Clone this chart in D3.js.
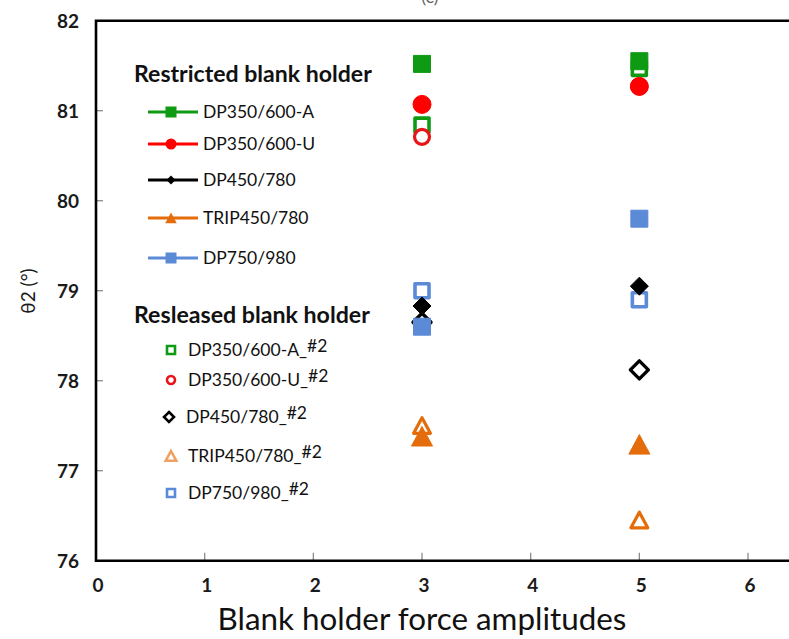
<!DOCTYPE html>
<html>
<head>
<meta charset="utf-8">
<script src="https://cdn.jsdelivr.net/npm/d3@7"></script>
<style>
  html, body { margin: 0; padding: 0; background: #fff; }
  svg { display: block; }
</style>
</head>
<body>
<svg id="chart" width="789" height="639"></svg>
<script>
// Blank holder force amplitudes at which θ2 was measured
const amplitudes = [3, 5];

// Restricted blank holder (filled markers, legend with line)
const restrictedNames = ["DP350/600-A", "DP350/600-U", "DP450/780", "TRIP450/780", "DP750/980"];
const restrictedValues = [
  [81.52, 81.55],
  [81.07, 81.27],
  [78.83, 79.05],
  [77.38, 77.29],
  [78.60, 79.80]
];

// Released blank holder (open markers)
const releasedNames = ["DP350/600-A_", "DP350/600-U_", "DP450/780_", "TRIP450/780_", "DP750/980_"];
const releasedValues = [
  [80.84, 81.47],
  [80.71, 81.27],
  [78.65, 78.12],
  [77.50, 76.45],
  [79.00, 78.90]
];

const xTicks = [0, 1, 2, 3, 4, 5, 6];
const yTicks = [76, 77, 78, 79, 80, 81, 82];

const colors = ["#0f9a14", "#ff0000", "#000000", "#e46c0a", "#5b8ad6"];
const openColors = ["#0f9a14", "#e8141a", "#000000", "#e46c0a", "#5b8ad6"];
const legendOpenColors = ["#0f9a14", "#e8141a", "#000000", "#f0a060", "#5b8ad6"];
const shapes = ["square", "circle", "diamond", "triangle", "square"];

const FONT = "Lato, 'Open Sans', sans-serif";
const svg = d3.select("#chart");

const x = d3.scaleLinear().domain([0, 6.6]).range([96, 96 + 6.6 * 108.67]);
const y = d3.scaleLinear().domain([76, 82]).range([560.7, 20.7]);

// scale a text's font size so that it spans the given width
function fitWidth(sel, width) {
  const fs = parseFloat(sel.attr("font-size"));
  const w = sel.node().getComputedTextLength();
  const nfs = fs * width / w;
  sel.attr("font-size", nfs);
  return nfs;
}

// custom marker geometry (size = full width in px)
const diamondType = {
  draw(ctx, s) {
    const h = s / 2;
    ctx.moveTo(0, -h); ctx.lineTo(h, 0); ctx.lineTo(0, h); ctx.lineTo(-h, 0); ctx.closePath();
  }
};
const triangleType = {
  draw(ctx, s) {
    const h = s / 2;
    ctx.moveTo(0, -h); ctx.lineTo(h * 1.05, h * 0.95); ctx.lineTo(-h * 1.05, h * 0.95); ctx.closePath();
  }
};
const squareType = {
  draw(ctx, s) {
    const h = s / 2;
    ctx.rect(-h, -h, s, s);
  }
};
const circleType = {
  draw(ctx, s) {
    const r = s / 2;
    ctx.moveTo(r, 0); ctx.arc(0, 0, r, 0, 2 * Math.PI);
  }
};
const typeOf = { square: squareType, circle: circleType, diamond: diamondType, triangle: triangleType };

function markerPath(shape, width) {
  return d3.symbol().type(typeOf[shape]).size(width)();
}

// filled marker widths and open marker widths (open ones are stroked)
const filledSize = { square: 17, circle: 18, diamond: 18, triangle: 20 };
const openSize = { square: 14, circle: 15, diamond: 18, triangle: 16 };
const openStroke = { square: 3.6, circle: 3.2, diamond: 3.4, triangle: 3.2 };

// ---- axes frame ----
const frame = svg.append("g");
// y tick marks (inside)
frame.selectAll("line.yt").data(yTicks.slice(1, -1)).join("line")
  .attr("x1", x(0)).attr("x2", x(0) + 7)
  .attr("y1", d => y(d)).attr("y2", d => y(d))
  .attr("stroke", "#8c8c8c").attr("stroke-width", 1.3);
// x tick marks (inside)
frame.selectAll("line.xt").data(xTicks.slice(1)).join("line")
  .attr("x1", d => x(d)).attr("x2", d => x(d))
  .attr("y1", y(76)).attr("y2", y(76) - 8)
  .attr("stroke", "#8c8c8c").attr("stroke-width", 1.3);

frame.append("path")
  .attr("d", `M${x(6.6)},${y(82)} L${x(0)},${y(82)} L${x(0)},${y(76)} L${x(6.6)},${y(76)}`)
  .attr("fill", "none").attr("stroke", "#000").attr("stroke-width", 2.6);

// tick labels
svg.append("g").selectAll("text").data(yTicks).join("text")
  .attr("x", 79).attr("y", d => y(d)).attr("dy", "0.36em")
  .attr("text-anchor", "end")
  .attr("font-family", FONT).attr("font-weight", "bold")
  .attr("font-size", 19).attr("fill", "#1a1a1a")
  .text(d => d);

svg.append("g").selectAll("text").data(xTicks).join("text")
  .attr("x", d => x(d) + 2).attr("y", 592)
  .attr("text-anchor", "middle")
  .attr("font-family", FONT).attr("font-weight", "bold")
  .attr("font-size", 19).attr("fill", "#1a1a1a")
  .text(d => d);

// axis titles
svg.append("text")
  .attr("transform", "translate(35,291) rotate(-90)")
  .attr("text-anchor", "middle")
  .attr("font-family", FONT)
  .attr("font-size", 19).attr("fill", "#1a1a1a")
  .text("θ2 (°)");

const xTitle = svg.append("text")
  .attr("x", 422).attr("y", 630)
  .attr("text-anchor", "middle")
  .attr("font-family", FONT)
  .attr("font-size", 27.5).attr("fill", "#111")
  .text("Blank holder force amplitudes");
fitWidth(xTitle, 409);

// panel caption, mostly above the canvas
svg.append("text")
  .attr("x", 430).attr("y", 3)
  .attr("text-anchor", "middle")
  .attr("font-family", FONT)
  .attr("font-size", 18).attr("fill", "#666")
  .text("(c)");

// ---- data points ----
const plot = svg.append("g");

// released blank holder (open markers) drawn first
releasedValues.forEach((vals, i) => {
  const shape = shapes[i];
  plot.append("g").selectAll("path").data(vals).join("path")
    .attr("d", markerPath(shape, openSize[shape]))
    .attr("transform", (d, j) => `translate(${x(amplitudes[j])},${y(d)})`)
    .attr("fill", "#fff")
    .attr("stroke", openColors[i])
    .attr("stroke-width", openStroke[shape])
    .attr("stroke-linejoin", "round");
});

// restricted blank holder (filled markers) on top
restrictedValues.forEach((vals, i) => {
  const shape = shapes[i];
  plot.append("g").selectAll("path").data(vals).join("path")
    .attr("d", markerPath(shape, filledSize[shape]))
    .attr("transform", (d, j) => `translate(${x(amplitudes[j])},${y(d)})`)
    .attr("fill", colors[i])
    .attr("stroke", colors[i])
    .attr("stroke-width", 1)
    .attr("stroke-linejoin", "round");
});

// ---- legends ----
const legend = svg.append("g")
  .attr("font-family", FONT)
  .attr("fill", "#111");

const headA = legend.append("text")
  .attr("x", 134).attr("y", 82)
  .attr("font-weight", "bold").attr("font-size", 19.5)
  .text("Restricted blank holder");
fitWidth(headA, 238);

const legRowsA = [112, 144, 180, 218, 258];
const legMarkA = { square: 11, circle: 11, diamond: 9, triangle: 11 };
let entryFont = 16;
restrictedNames.forEach((name, i) => {
  const g = legend.append("g").attr("transform", `translate(0,${legRowsA[i]})`);
  g.append("line").attr("x1", 148).attr("x2", 198).attr("y1", 0).attr("y2", 0)
    .attr("stroke", colors[i]).attr("stroke-width", 3);
  g.append("path").attr("d", markerPath(shapes[i], legMarkA[shapes[i]]))
    .attr("transform", "translate(171,0)")
    .attr("fill", colors[i]);
  const t = g.append("text").attr("x", 203).attr("y", 0).attr("dy", "0.35em")
    .attr("font-size", entryFont).text(name);
  if (i === 0) entryFont = fitWidth(t, 111);
  else t.attr("font-size", entryFont);
});

const headB = legend.append("text")
  .attr("x", 134).attr("y", 323)
  .attr("font-weight", "bold").attr("font-size", 19.5)
  .text("Resleased blank holder");
fitWidth(headB, 236);

const legRowsB = [350, 380, 417, 456, 493];
const legMarkB = { square: 8, circle: 8, diamond: 10, triangle: 10 };
releasedNames.forEach((name, i) => {
  const g = legend.append("g").attr("transform", `translate(0,${legRowsB[i]})`);
  const mx = shapes[i] === "diamond" ? 169 : 171;
  g.append("path").attr("d", markerPath(shapes[i], legMarkB[shapes[i]]))
    .attr("transform", `translate(${mx},0)`)
    .attr("fill", "#fff").attr("stroke", legendOpenColors[i]).attr("stroke-width", 2.6);
  const t = g.append("text").attr("x", shapes[i] === "diamond" ? 186 : 188).attr("y", 0).attr("dy", "0.35em")
    .attr("font-size", entryFont);
  t.append("tspan").text(name);
  t.append("tspan").attr("dy", -4).text("#2");
});
</script>
</body>
</html>
